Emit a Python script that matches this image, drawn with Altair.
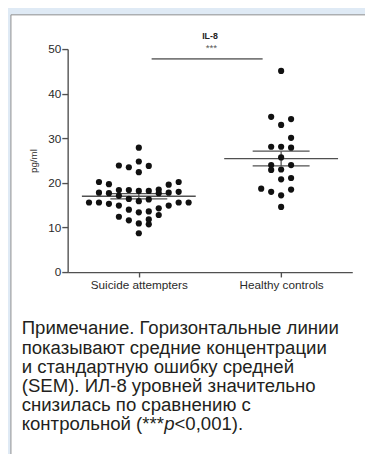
import altair as alt
import pandas as pd

# ---- data ----
groups = ["Suicide attempters", "Healthy controls"]

g1_values = [27.9, 24.8, 23.9, 23.5, 23.8, 22.4, 20.2, 19.7, 20.2, 19.6,
             17.8, 17.7, 18.4, 18.4, 18.2, 18.2, 18.5, 17.8, 18.0, 17.7,
             15.6, 15.6, 15.3, 17.1, 14.9, 16.4, 15.9, 16.3, 14.9, 15.6,
             15.6, 14.0, 13.4, 13.6, 14.3, 12.4, 11.6, 12.8, 11.8, 10.9,
             10.7, 8.7]
g1_slots = [0, 0, -2, -1, 1, 0, -4, -3, 4, 3,
            -4, -3, -2, -1, 0, 1, 2, 3, 4, 2,
            -5, -4, -3, -2, -2, -1, 0, 1, 3, 4,
            5, -1, 0, 1, 2, -2, -1, 2, 1, 0,
            1, 0]

g2_values = [45.1, 34.8, 34.3, 33.0, 30.1, 28.1, 28.1, 27.9, 25.7, 24.0,
             22.9, 23.0, 24.0, 20.8, 21.1, 18.7, 18.0, 17.2, 18.5, 14.6]
g2_slots = [0, -1, 1, 0, 1, -1, 0, 1, 0, -1,
            -1, 0, 1, 0, 1, -2, -1, 0, 1, 0]

means = [17.0, 25.45]
sems = [0.6, 1.65]

y_ticks = [0, 10, 20, 30, 40, 50]
panel_title = "IL-8"
stars = "***"
sig_from, sig_to, sig_y = 0.59, 1.37, 47.8

caption_lines = [
    "Примечание. Горизонтальные линии",
    "показывают средние концентрации",
    "и стандартную ошибку средней",
    "(SEM). ИЛ-8 уровней значительно",
    "снизилась по сравнению с",
]
caption_last = ["контрольной (***", "p", "<0,001)."]

# ---- style constants ----
SLOT = 0.07
MEAN_HALF = 0.40
SEM_HALF = 0.20
W, H = 291, 228
FONT = "Liberation Sans"
LINE = "#505050"
CAP_SIZE = 19
CAP_LH = 19.6
TXT = "#231f20"

rows = []
for gi, (vals, slots) in enumerate([(g1_values, g1_slots), (g2_values, g2_slots)]):
    for v, s in zip(vals, slots):
        rows.append({"group": groups[gi], "gi": gi, "value": v, "slot": s})
pts = pd.DataFrame(rows)

summ = pd.DataFrame({"group": groups, "gi": [0, 1], "mean": means, "sem": sems})

xscale = alt.Scale(domain=[0, 2], nice=False, zero=False)
yscale = alt.Scale(domain=[0, 50], nice=False)

label_expr = "datum.value < 1 ? '%s' : '%s'" % (groups[0], groups[1])

base_x_axis = alt.Axis(values=[0.5, 1.5], labelExpr=label_expr, title=None,
                       grid=False, domainColor=LINE, tickColor=LINE,
                       domainWidth=1.4, tickWidth=1.4, tickSize=5,
                       labelFont=FONT, labelFontSize=12, labelColor="#2a2a2a",
                       labelPadding=3, zindex=2)
base_y_axis = alt.Axis(values=y_ticks, title="pg/ml", grid=False,
                       domainColor=LINE, tickColor=LINE, domainWidth=1.4,
                       tickWidth=1.4, tickSize=6, labelFont=FONT,
                       labelFontSize=12, labelColor="#2a2a2a", labelPadding=1,
                       titleFont=FONT, titleFontSize=10, titleFontWeight="normal",
                       titleColor="#2a2a2a", titlePadding=9, zindex=2)

panel = alt.Chart(pd.DataFrame({"a": [0]})).mark_rect(
    fill="white", stroke="#8c8c8c", strokeWidth=1
).encode(x=alt.value(-58), y=alt.value(-35), x2=alt.value(330), y2=alt.value(420))

dots = alt.Chart(pts).transform_calculate(
    xpos="datum.gi + 0.5 + datum.slot * %f" % SLOT
).mark_circle(size=40, color="#111", opacity=1).encode(
    x=alt.X("xpos:Q", scale=xscale, axis=base_x_axis),
    y=alt.Y("value:Q", scale=yscale, axis=base_y_axis),
)

mean_rule = alt.Chart(summ).transform_calculate(
    x1="datum.gi + 0.5 - %f" % MEAN_HALF, x2="datum.gi + 0.5 + %f" % MEAN_HALF
).mark_rule(color=LINE, strokeWidth=1.3).encode(
    x=alt.X("x1:Q", scale=xscale), x2="x2:Q",
    y=alt.Y("mean:Q", scale=yscale),
)

sem_rows = alt.Chart(summ).transform_calculate(
    x1="datum.gi + 0.5 - %f" % SEM_HALF, x2="datum.gi + 0.5 + %f" % SEM_HALF,
    lo="datum.mean - datum.sem", hi="datum.mean + datum.sem"
).transform_fold(["lo", "hi"], as_=["k", "yv"])

sem_rule = sem_rows.mark_rule(color=LINE, strokeWidth=1.3).encode(
    x=alt.X("x1:Q", scale=xscale), x2="x2:Q",
    y=alt.Y("yv:Q", scale=yscale),
)

sem_vert = alt.Chart(summ).transform_calculate(
    xc="datum.gi + 0.5", lo="datum.mean - datum.sem", hi="datum.mean + datum.sem"
).mark_rule(color=LINE, strokeWidth=1.3).encode(
    x=alt.X("xc:Q", scale=xscale),
    y=alt.Y("lo:Q", scale=yscale), y2="hi:Q",
)

sig = pd.DataFrame({"x1": [sig_from], "x2": [sig_to], "y": [sig_y]})
sig_rule = alt.Chart(sig).mark_rule(color="#7a7a7a", strokeWidth=1.8).encode(
    x=alt.X("x1:Q", scale=xscale), x2="x2:Q", y=alt.Y("y:Q", scale=yscale)
)
sig_text = alt.Chart(pd.DataFrame({"x": [1.01], "y": [50.3], "t": [stars]})).mark_text(
    font=FONT, fontSize=10, color="#555", baseline="middle"
).encode(x=alt.X("x:Q", scale=xscale), y=alt.Y("y:Q", scale=yscale), text="t:N")

title_text = alt.Chart(pd.DataFrame({"x": [1.0], "y": [52.9], "t": [panel_title]})).mark_text(
    font=FONT, fontSize=9, fontWeight="bold", color="#222", baseline="middle"
).encode(x=alt.X("x:Q", scale=xscale), y=alt.Y("y:Q", scale=yscale), text="t:N")

cap_y = 336.7 - 8 - 37  # baseline of first caption line, relative to plot top
cap_x = 22 - 8 - 61

caption = alt.Chart(pd.DataFrame({"a": [0]})).mark_text(
    font=FONT, fontSize=CAP_SIZE, color=TXT, align="left", baseline="alphabetic",
    lineHeight=CAP_LH, text=caption_lines
).encode(x=alt.value(cap_x), y=alt.value(cap_y))

last_y = cap_y + CAP_LH * 5
seg_a_w = 7.665 * CAP_SIZE   # Arial-metric width of first segment
seg_b_w = 0.556 * CAP_SIZE
cap_a = alt.Chart(pd.DataFrame({"a": [0]})).mark_text(
    font=FONT, fontSize=CAP_SIZE, color=TXT, align="left", baseline="alphabetic",
    text=caption_last[0]
).encode(x=alt.value(cap_x), y=alt.value(last_y))
cap_b = alt.Chart(pd.DataFrame({"a": [0]})).mark_text(
    font=FONT, fontSize=CAP_SIZE, color=TXT, align="left", baseline="alphabetic",
    fontStyle="italic", text=caption_last[1]
).encode(x=alt.value(cap_x + seg_a_w), y=alt.value(last_y))
cap_c = alt.Chart(pd.DataFrame({"a": [0]})).mark_text(
    font=FONT, fontSize=CAP_SIZE, color=TXT, align="left", baseline="alphabetic",
    text=caption_last[2]
).encode(x=alt.value(cap_x + seg_a_w + seg_b_w), y=alt.value(last_y))

chart = alt.layer(
    panel, mean_rule, sem_rule, sem_vert, sig_rule, dots, sig_text, title_text,
    caption, cap_a, cap_b, cap_c
).properties(
    width=W, height=H,
    background="#dfeaf5",
    padding={"left": 61, "top": 37, "right": 13, "bottom": 181},
    autosize=alt.AutoSizeParams(type="none"),
).configure_view(stroke=None)

chart.save("out.html", embed_options={"renderer": "svg", "actions": False})
